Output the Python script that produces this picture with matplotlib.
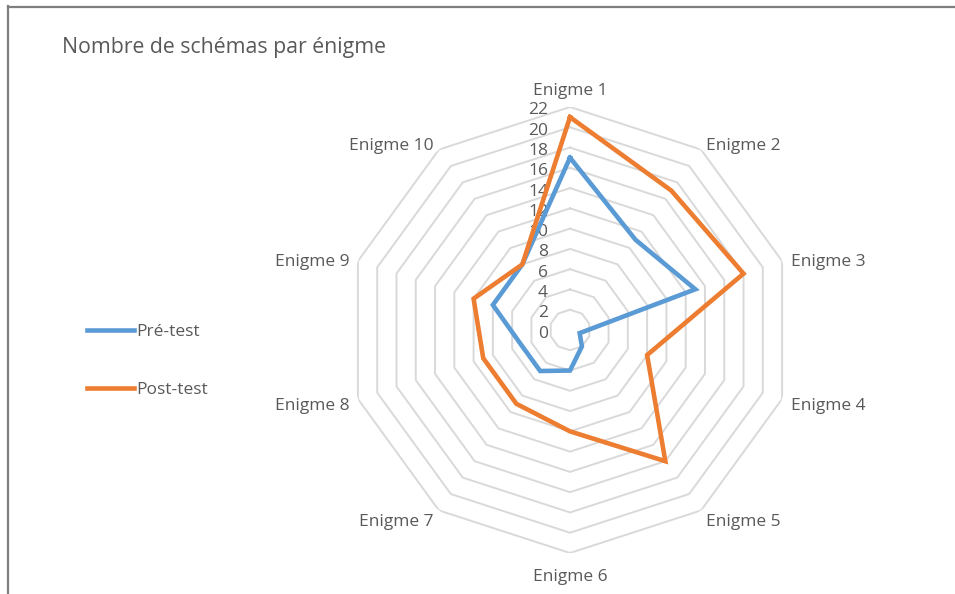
import numpy as np
import matplotlib.pyplot as plt
from matplotlib.lines import Line2D

enigmes = ["Enigme 1", "Enigme 2", "Enigme 3", "Enigme 4", "Enigme 5",
           "Enigme 6", "Enigme 7", "Enigme 8", "Enigme 9", "Enigme 10"]
pre_test = [17, 11, 13, 1, 2, 4, 5, 5, 8, 8]
post_test = [21, 17, 18, 8, 16, 10, 9, 9, 10, 8]
ticks = list(range(0, 23, 2))

plt.rcParams['font.family'] = ['Open Sans', 'DejaVu Sans']
grey = '#595959'
blue = '#5B9BD5'
orange = '#ED7D31'

W, H = 955, 594
cx, cy, R = 570, 330, 223
fig = plt.figure(figsize=(W / 100, H / 100), dpi=100)

# outer chart frame (left and top edges visible)
fig.add_artist(Line2D([8 / W, 8 / W], [0, 1 - 6 / H], color='#7f7f7f', lw=1.6))
fig.add_artist(Line2D([8 / W, 1], [1 - 6.5 / H, 1 - 6.5 / H], color='#7f7f7f', lw=1.6))

fig.text(62 / W, 1 - 47 / H, "Nombre de schémas par énigme", fontsize=15.3,
         color=grey, ha='left', va='center')

ax = fig.add_axes([(cx - R) / W, (H - cy - R) / H, 2 * R / W, 2 * R / H],
                  projection='polar')
ax.set_theta_offset(np.pi / 2)
ax.set_theta_direction(-1)
ax.set_ylim(0, 22)
ax.axis('off')

n = len(enigmes)
theta = np.linspace(0, 2 * np.pi, n, endpoint=False)
closed = np.append(theta, theta[0])

# decagon grid
for t in ticks[1:]:
    ax.plot(closed, [t] * (n + 1), color='#d9d9d9', lw=1.4, zorder=1)

for t in ticks:
    ax.annotate(str(t), xy=(0, t), xytext=(-22, -3.5), textcoords='offset pixels',
                ha='right', va='center', fontsize=12.5, color=grey, zorder=2)

for th, lab in zip(theta, enigmes):
    s, c = np.sin(th), np.cos(th)
    if abs(s) < 1e-6:
        ha = 'center'
        va = 'bottom' if c > 0 else 'top'
        off = (0, 12 * c - 4)
    else:
        ha = 'left' if s > 0 else 'right'
        va = 'center'
        off = (9 * s, 9 * c - 4)
    ax.annotate(lab, xy=(th, 22), xytext=off, textcoords='offset pixels',
                ha=ha, va=va, fontsize=12.5, color=grey)

l1, = ax.plot(closed, pre_test + pre_test[:1], color=blue, lw=3.3,
              solid_joinstyle='miter', zorder=3, label='Pré-test')
l2, = ax.plot(closed, post_test + post_test[:1], color=orange, lw=3.3,
              solid_joinstyle='miter', zorder=4, label='Post-test')

fig.legend(handles=[l1, l2], loc='center left',
           bbox_to_anchor=(87 / W, 1 - 361 / H), frameon=False,
           fontsize=12.5, labelcolor=grey, handlelength=2.7,
           handletextpad=0.15, labelspacing=2.4, borderpad=0, borderaxespad=0)

fig.savefig('out.png', dpi=100)
